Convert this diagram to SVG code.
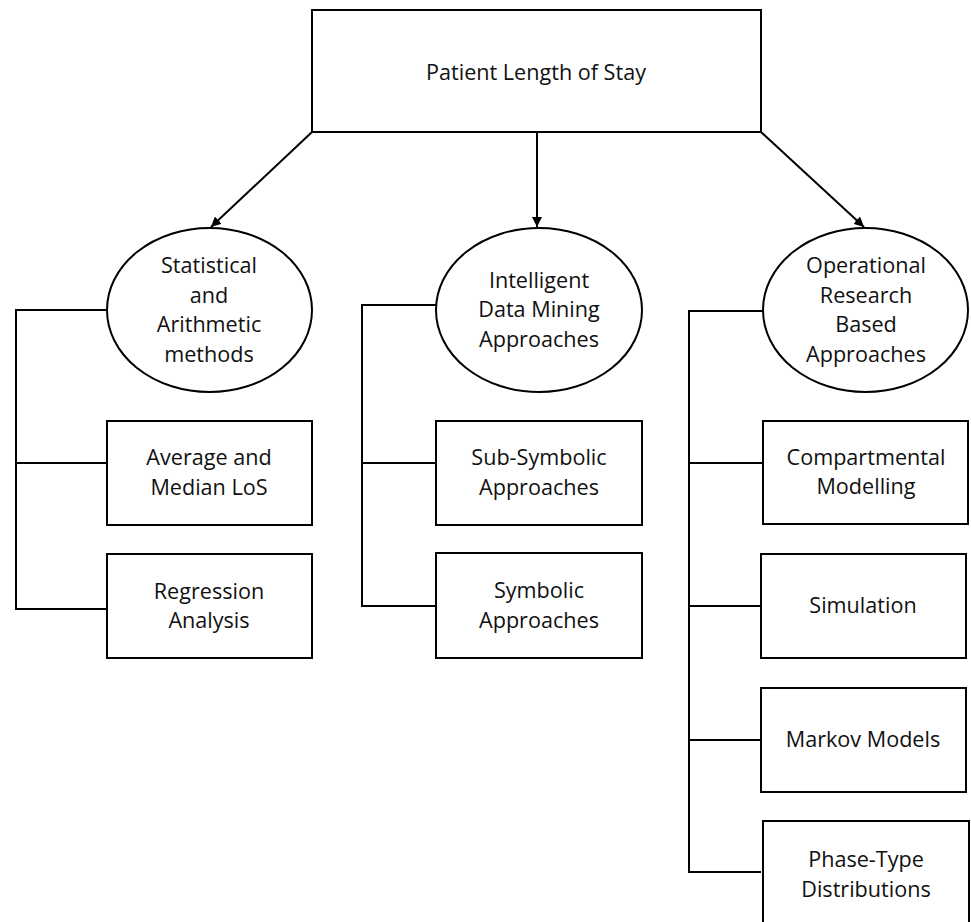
<svg xmlns="http://www.w3.org/2000/svg" width="971" height="922" viewBox="0 0 971 922">
<style>
.n{fill:#fff;stroke:#000;stroke-width:2}
.t{font-family:"Open Sans","Liberation Sans",sans-serif;font-size:21.6px;fill:#111;text-anchor:middle}
.c{fill:none;stroke:#000;stroke-width:2}
</style>
<defs>
<marker id="ah" viewBox="0 0 10 10" refX="10" refY="5" markerWidth="5" markerHeight="5" orient="auto" markerUnits="strokeWidth">
<path d="M0,0 L10,5 L0,10 Z" fill="#000"/>
</marker>
</defs>
<rect width="971" height="922" fill="#fff"/>
<g id="connectors">
<line class="c" x1="312" y1="132" x2="211" y2="227" marker-end="url(#ah)"/>
<line class="c" x1="537" y1="132" x2="537" y2="227" marker-end="url(#ah)"/>
<line class="c" x1="761" y1="132" x2="864" y2="227" marker-end="url(#ah)"/>
<polyline class="c" points="107,310 16,310 16,609 107,609"/>
<line class="c" x1="16" y1="463" x2="107" y2="463"/>
<polyline class="c" points="436,305 362,305 362,606 436,606"/>
<line class="c" x1="362" y1="463" x2="436" y2="463"/>
<polyline class="c" points="763,311 689,311 689,872 761,872"/>
<line class="c" x1="689" y1="463" x2="763" y2="463"/>
<line class="c" x1="689" y1="606" x2="761" y2="606"/>
<line class="c" x1="689" y1="740" x2="761" y2="740"/>
</g>
<g id="root">
<rect class="n" x="312" y="10" width="449" height="122"/>
<text class="t" x="536" y="80">Patient Length of Stay</text>
</g>
<g id="statistical">
<ellipse class="n" cx="209.5" cy="310" rx="102.5" ry="82"/>
<text class="t" x="209" y="273">Statistical</text>
<text class="t" x="209" y="303">and</text>
<text class="t" x="209" y="332">Arithmetic</text>
<text class="t" x="209" y="362">methods</text>
</g>
<g id="average">
<rect class="n" x="107" y="421" width="205" height="104"/>
<text class="t" x="209" y="465">Average and</text>
<text class="t" x="209" y="495">Median LoS</text>
</g>
<g id="regression">
<rect class="n" x="107" y="554" width="205" height="104"/>
<text class="t" x="209" y="599">Regression</text>
<text class="t" x="209" y="628">Analysis</text>
</g>
<g id="datamining">
<ellipse class="n" cx="539" cy="310" rx="103" ry="82"/>
<text class="t" x="539" y="288">Intelligent</text>
<text class="t" x="539" y="317">Data Mining</text>
<text class="t" x="539" y="347">Approaches</text>
</g>
<g id="subsymbolic">
<rect class="n" x="436" y="421" width="206" height="104"/>
<text class="t" x="539" y="465">Sub-Symbolic</text>
<text class="t" x="539" y="495">Approaches</text>
</g>
<g id="symbolic">
<rect class="n" x="436" y="553" width="206" height="105"/>
<text class="t" x="539" y="598">Symbolic</text>
<text class="t" x="539" y="628">Approaches</text>
</g>
<g id="operational">
<ellipse class="n" cx="865.5" cy="310" rx="102.5" ry="82"/>
<text class="t" x="866" y="273">Operational</text>
<text class="t" x="866" y="303">Research</text>
<text class="t" x="866" y="332">Based</text>
<text class="t" x="866" y="362">Approaches</text>
</g>
<g id="compartmental">
<rect class="n" x="763" y="421" width="205" height="103"/>
<text class="t" x="866" y="465">Compartmental</text>
<text class="t" x="866" y="494">Modelling</text>
</g>
<g id="simulation">
<rect class="n" x="761" y="554" width="205" height="104"/>
<text class="t" x="863" y="613">Simulation</text>
</g>
<g id="markov">
<rect class="n" x="761" y="688" width="205" height="104"/>
<text class="t" x="863" y="747">Markov Models</text>
</g>
<g id="phasetype">
<rect class="n" x="763" y="821" width="206" height="110"/>
<text class="t" x="866" y="867">Phase-Type</text>
<text class="t" x="866" y="897">Distributions</text>
</g>
</svg>
